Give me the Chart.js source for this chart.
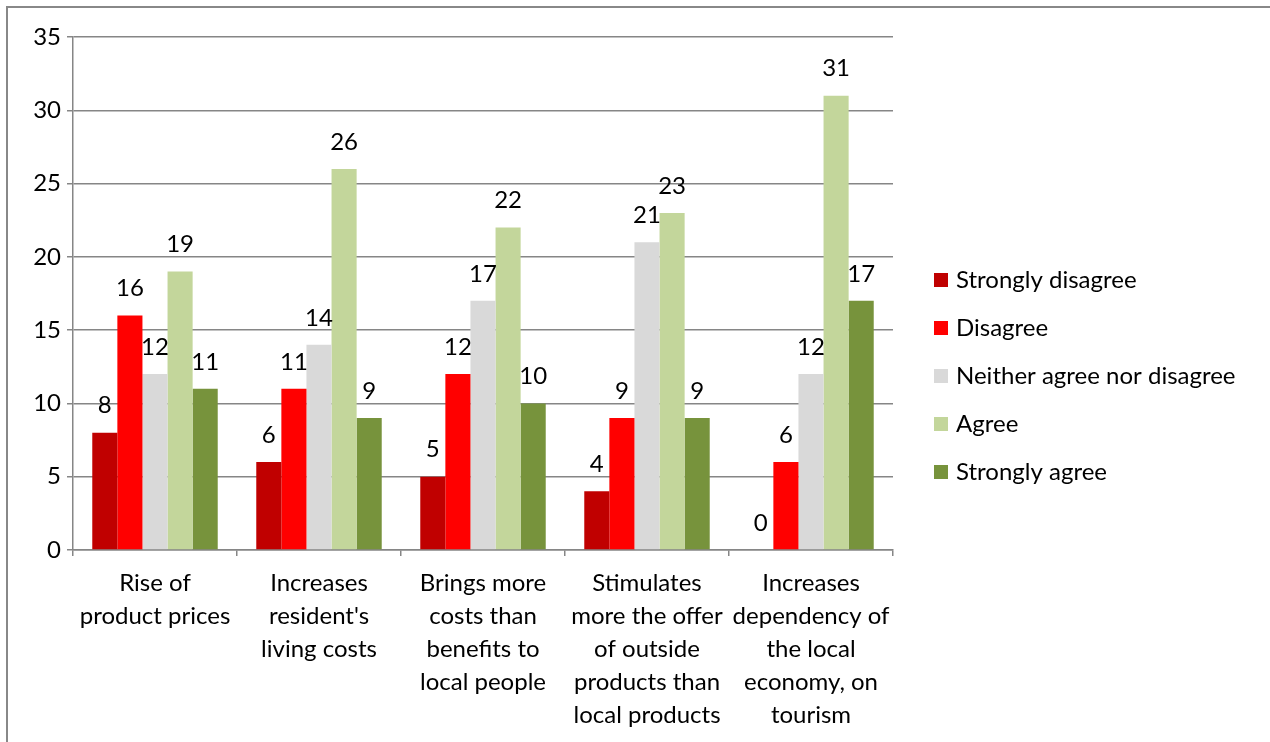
<!DOCTYPE html>
<html>
<head>
<meta charset="utf-8">
<script src="https://cdn.jsdelivr.net/npm/chart.js@4.4.0/dist/chart.umd.min.js"></script>
<style>
  html, body { margin: 0; padding: 0; background: #fff; overflow: hidden; }
  #moldura { position: absolute; left: 6px; top: 6px; width: 1320px; height: 800px; border: 2px solid #888; }
  #wrap { position: absolute; left: 0; top: 0; width: 1270px; height: 742px; }
</style>
</head>
<body>
<div id="moldura"></div>
<div id="wrap"><canvas id="grafico"></canvas></div>
<script>
// Categorias (eixo X, quebradas em linhas)
const categorias = [
    ["Rise of", "product prices"],
    ["Increases", "resident's", "living costs"],
    ["Brings more", "costs than", "benefits to", "local people"],
    ["Stimulates", "more the offer", "of outside", "products than", "local products"],
    ["Increases", "dependency of", "the local", "economy, on", "tourism"]
];

// Séries
const series = ["Strongly disagree", "Disagree", "Neither agree nor disagree", "Agree", "Strongly agree"];
const stronglyDisagree = [8, 6, 5, 4, 0];
const disagree = [16, 11, 12, 9, 6];
const neither = [12, 14, 17, 21, 12];
const agree = [19, 26, 22, 23, 31];
const stronglyAgree = [11, 9, 10, 9, 17];
const cores = ["#C00000", "#FF0000", "#D9D9D9", "#C3D69B", "#77933C"];

// Eixo Y
const yTicks = [0, 5, 10, 15, 20, 25, 30, 35];

const FONTE = "Lato, 'Open Sans', sans-serif";
const TAM = 24;

// Plugin: rótulos de valor acima das barras
const rotulosValores = {
    id: 'rotulosValores',
    afterDatasetsDraw(chart) {
        const ctx = chart.ctx;
        ctx.save();
        ctx.font = TAM + "px " + FONTE;
        ctx.fillStyle = "#000";
        ctx.textAlign = "center";
        ctx.textBaseline = "middle";
        chart.data.datasets.forEach((ds, i) => {
            chart.getDatasetMeta(i).data.forEach((bar, j) => {
                ctx.fillText(String(ds.data[j]), bar.x, bar.y - 27);
            });
        });
        ctx.restore();
    }
};

// Plugin: legenda à direita
const legendaDireita = {
    id: 'legendaDireita',
    afterDraw(chart) {
        const ctx = chart.ctx;
        ctx.save();
        ctx.font = TAM + "px " + FONTE;
        ctx.textBaseline = "middle";
        ctx.textAlign = "left";
        chart.data.datasets.forEach((ds, i) => {
            const y = 280 + i * 48;
            ctx.fillStyle = ds.backgroundColor;
            ctx.fillRect(934, y - 7, 14, 14);
            ctx.fillStyle = "#000";
            ctx.fillText(ds.label, 956, y);
        });
        ctx.restore();
    }
};

const dados = [stronglyDisagree, disagree, neither, agree, stronglyAgree];

new Chart(document.getElementById('grafico'), {
    type: 'bar',
    data: {
        labels: categorias,
        datasets: series.map((nome, i) => ({
            label: nome,
            data: dados[i],
            backgroundColor: cores[i],
            categoryPercentage: 0.765,
            barPercentage: 1.0
        }))
    },
    options: {
        responsive: true,
        maintainAspectRatio: false,
        animation: false,
        layout: { padding: { left: 0, top: 37, right: 377, bottom: 0 } },
        plugins: {
            legend: { display: false },
            tooltip: { enabled: false }
        },
        scales: {
            x: {
                afterFit: s => { s.height = 192; },
                grid: { display: true, drawOnChartArea: false, drawTicks: true, tickLength: 6, color: '#868686', lineWidth: 1.5, offset: true },
                border: { display: true, color: '#868686', width: 1.5 },
                ticks: { color: '#000', padding: 11, maxRotation: 0, autoSkip: false, font: { family: FONTE, size: TAM, lineHeight: 1.375 } }
            },
            y: {
                min: 0,
                max: 35,
                afterFit: s => { s.width = 73; },
                afterBuildTicks: s => { s.ticks = yTicks.map(v => ({ value: v })); },
                grid: { color: '#868686', lineWidth: 1.5, tickLength: 6 },
                border: { display: true, color: '#868686', width: 1.5 },
                ticks: { color: '#000', padding: 6, font: { family: FONTE, size: TAM } }
            }
        }
    },
    plugins: [rotulosValores, legendaDireita]
});
</script>
</body>
</html>
